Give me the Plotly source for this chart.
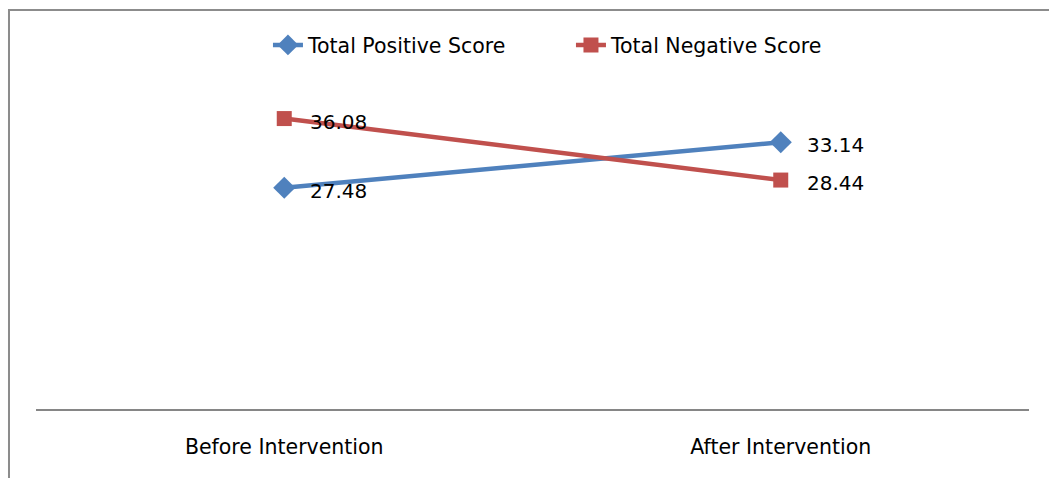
import plotly.graph_objects as go

# Chart data
stages = ["Before Intervention", "After Intervention"]
positive_scores = [27.48, 33.14]
negative_scores = [36.08, 28.44]
series_names = ["Total Positive Score", "Total Negative Score"]

BLUE = "#4F81BD"
RED = "#C0504D"
FONT = "DejaVu Sans"

fig = go.Figure()
fig.add_trace(go.Scatter(
    x=stages, y=positive_scores, name=series_names[0], mode="lines+markers",
    line=dict(color=BLUE, width=4.5),
    marker=dict(symbol="diamond", size=17, color=BLUE),
))
fig.add_trace(go.Scatter(
    x=stages, y=negative_scores, name=series_names[1], mode="lines+markers",
    line=dict(color=RED, width=4.5),
    marker=dict(symbol="square", size=15, color=RED),
))

# Value labels to the right of each point
for vals in (positive_scores, negative_scores):
    for stage, v in zip(stages, vals):
        fig.add_annotation(
            x=stage, y=v, text=f"{v:.2f}", showarrow=False,
            xanchor="left", yanchor="middle", xshift=24, yshift=-3,
            font=dict(family=FONT, size=20, color="#000000"),
        )

# Outer chart frame (partly outside the visible area)
fig.add_shape(
    type="rect", xref="paper", yref="paper",
    x0=-0.0272, x1=1.1, y0=-0.5, y1=1.239,
    line=dict(color="#8C8C8C", width=2), fillcolor="rgba(0,0,0,0)", layer="below",
)

fig.update_layout(
    width=1049, height=478,
    margin=dict(l=36, r=20, t=87, b=69),
    paper_bgcolor="white", plot_bgcolor="white",
    font=dict(family=FONT, size=20.5, color="#000000"),
    showlegend=True,
    legend=dict(
        orientation="h", x=0.2336, y=1.13, xanchor="left", yanchor="middle",
        font=dict(family=FONT, size=20.5, color="#000000"),
        bgcolor="rgba(0,0,0,0)", itemwidth=30,
        entrywidth=258, entrywidthmode="pixels",
    ),
    xaxis=dict(
        type="category", range=[-0.5, 1.5],
        showline=True, linecolor="#868686", linewidth=2,
        showgrid=False, zeroline=False, ticks="",
        tickfont=dict(family=FONT, size=20.5, color="#000000"),
        ticklabelstandoff=18,
    ),
    yaxis=dict(
        range=[0, 40], visible=False, showgrid=False, zeroline=False,
    ),
)

fig.write_html("out.html")
